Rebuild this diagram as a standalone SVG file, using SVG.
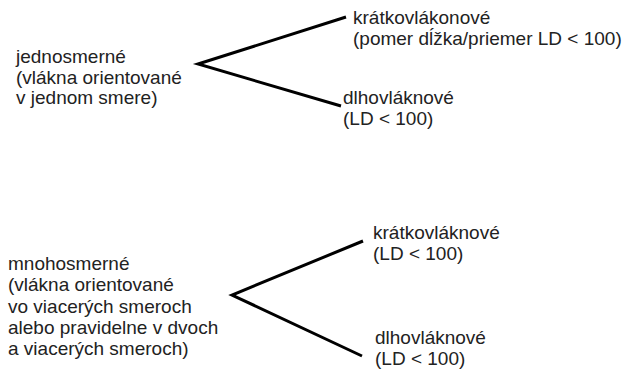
<svg xmlns="http://www.w3.org/2000/svg" width="625" height="374" viewBox="0 0 625 374">
<style>
text{font-family:"Liberation Sans",Arial,sans-serif;font-size:19px;fill:#222}
.c{stroke:#000;stroke-width:3;fill:none;stroke-linejoin:miter}
</style>
<rect width="625" height="374" fill="#fff"/>
<g id="connectors">
<polyline class="c" points="346,17 198,64 341,106"/>
<polyline class="c" points="363,241 232,295 362,356"/>
</g>
<g id="jednosmerne">
<text x="16" y="63">jednosmerné</text>
<text x="16" y="84">(vlákna orientované</text>
<text x="16" y="104">v jednom smere)</text>
</g>
<g id="kratkovlakonove">
<text x="353" y="24">krátkovlákonové</text>
<text x="353" y="45">(pomer dĺžka/priemer LD &lt; 100)</text>
</g>
<g id="dlhovlaknove1">
<text x="343" y="104">dlhovláknové</text>
<text x="343" y="125">(LD &lt; 100)</text>
</g>
<g id="mnohosmerne">
<text x="8" y="270">mnohosmerné</text>
<text x="8" y="291">(vlákna orientované</text>
<text x="8" y="313">vo viacerých smeroch</text>
<text x="8" y="334">alebo pravidelne v dvoch</text>
<text x="8" y="355">a viacerých smeroch)</text>
</g>
<g id="kratkovlaknove">
<text x="373" y="239">krátkovláknové</text>
<text x="373" y="260">(LD &lt; 100)</text>
</g>
<g id="dlhovlaknove2">
<text x="375" y="344">dlhovláknové</text>
<text x="375" y="365">(LD &lt; 100)</text>
</g>
</svg>
